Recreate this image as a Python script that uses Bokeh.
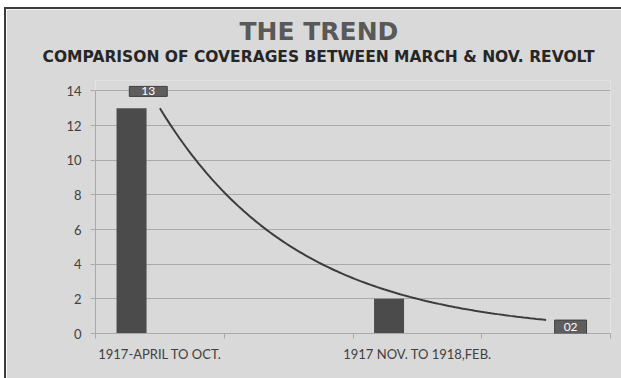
import numpy as np
from bokeh.plotting import figure
from bokeh.models import Range1d, FixedTicker, Label, Title
from bokeh.embed import file_html
from bokeh.resources import INLINE

# Coverage counts per period
periods = ["1917-APRIL TO OCT.", "1917 NOV. TO 1918,FEB."]
coverage = [13, 2]
# category slots on the axis (four slots, periods sit in slots 1 and 3)
slots = [1, 3]
n_slots = 4
y_ticks = [0, 2, 4, 6, 8, 10, 12, 14]
y_max = 14

FONT = "Lato"
HEAD_FONT = "DejaVu Sans"
BG = "#d9d9d9"
GRID = "#a9a9a9"
DARK = "#4b4b4b"
TEXT = "#404040"

# frame reaches slightly above the top value so the first value label fits;
# axis bounds keep the axis line on the value span
p = figure(
    width=615, height=369,
    output_backend="svg", toolbar_location=None,
    x_range=Range1d(0.5, n_slots + 0.5), y_range=Range1d(0, 14.6),
    frame_width=515, frame_height=253,
    min_border_left=89, min_border_right=11, min_border_top=71, min_border_bottom=45,
    background_fill_color=BG, border_fill_color=BG,
    outline_line_color=None,
    margin=(7, 0, 0, 4),
    styles={"border-top": "2px solid #3c3c3c", "border-left": "2px solid #3c3c3c"},
)

# bars, offset to the left of each category slot
bar_x = [s - 0.22 for s in slots]
p.vbar(x=bar_x, top=coverage, width=0.233, fill_color=DARK, line_color=None)

# exponential trend line fitted through the bar values, one slot forecast
b, ln_a = np.polyfit(slots, np.log(coverage), 1)
tx = np.linspace(slots[0], n_slots, 120)
ty = np.exp(ln_a) * np.exp(b * tx)
p.line(tx, ty, line_color="#3c3c3c", line_width=2)

# value labels
label_pos = [(slots[0] - 0.09, 13.97), (n_slots + 0.19, 0.37)]
label_pad = [(12, 1), (9, 3)]
for v, (lx, ly), pad in zip(coverage, label_pos, label_pad):
    p.add_layout(Label(
        x=lx, y=ly, text=f"{v:02d}", text_align="center", text_baseline="middle",
        text_color="white", text_font=FONT, text_font_size="12px",
        background_fill_color="#5e5e5e", border_line_color="#3f3f3f",
        padding=pad,
    ))

# y axis
p.yaxis.ticker = FixedTicker(ticks=y_ticks)
p.yaxis.bounds = (0, y_max)
p.yaxis.axis_line_color = GRID
p.yaxis.major_tick_line_color = GRID
p.yaxis.major_tick_out = 5
p.yaxis.major_tick_in = 0
p.yaxis.minor_tick_line_color = None
p.yaxis.major_label_text_font = FONT
p.yaxis.major_label_text_font_size = "13px"
p.yaxis.major_label_text_color = TEXT
p.yaxis.major_label_standoff = 9

# x axis: labels at the period slots, tick marks at slot boundaries
p.xaxis.ticker = FixedTicker(ticks=slots, minor_ticks=[i + 0.5 for i in range(n_slots + 1)])
p.xaxis.major_label_overrides = {s: name for s, name in zip(slots, periods)}
p.xaxis.axis_line_color = GRID
p.xaxis.major_tick_line_color = None
p.xaxis.minor_tick_line_color = GRID
p.xaxis.minor_tick_out = 5
p.xaxis.minor_tick_in = 0
p.xaxis.major_label_text_font = FONT
p.xaxis.major_label_text_font_size = "13px"
p.xaxis.major_label_text_color = TEXT
p.xaxis.major_label_standoff = 6

p.xgrid.grid_line_color = None
p.ygrid.grid_line_color = GRID
p.ygrid.grid_line_width = 1

# headings: the subtitle sits next to the frame, the main title above it
p.add_layout(Title(
    text="COMPARISON OF COVERAGES BETWEEN MARCH & NOV. REVOLT", align="left",
    offset=-53, standoff=30, text_font=HEAD_FONT, text_font_style="bold",
    text_font_size="15.5px", text_color="#262626",
), "above")
p.add_layout(Title(
    text="THE TREND", align="left", offset=144, standoff=-31,
    text_font=HEAD_FONT, text_font_style="bold", text_font_size="25px",
    text_color="#595959",
), "above")

open("out.html", "w").write(file_html(p, INLINE))
